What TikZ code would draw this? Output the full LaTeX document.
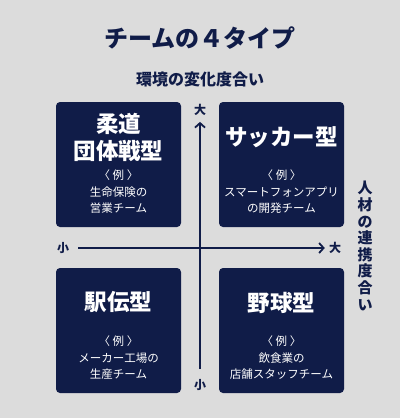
\documentclass[tikz,border=0pt]{standalone}
\usepackage{fontspec}
\setmainfont{Noto Sans CJK JP}
\usetikzlibrary{arrows.meta}
\definecolor{navy}{HTML}{101C48}
\definecolor{bggray}{HTML}{DCDCDC}

\begin{document}
\begin{tikzpicture}[
  x=1pt, y=-1pt,
  ttl/.style={text=navy, font=\fontsize{24}{28}\selectfont\bfseries},
  axlbl/.style={text=navy, align=center, font=\fontsize{16}{19}\selectfont\bfseries},
  tick/.style={text=navy, inner sep=0pt, font=\fontsize{12}{14}\selectfont\bfseries},
  arr/.style={draw=navy, line width=1.8pt, -{Straight Barb[length=4.5pt,width=10pt]}},
  box/.style={fill=navy, rounded corners=4pt, minimum width=125pt,
    minimum height=125pt, inner sep=0pt},
  hdr/.style={text=white, align=center, font=\fontsize{22.5}{27}\selectfont\bfseries},
  ex/.style={text=white, align=center, font=\fontsize{11.5}{16.7}\selectfont}
]

% -------------------------------------------------
% Background and box centres
% -------------------------------------------------
\fill[bggray] (0,0) rectangle (400,418);

\def\xL{118.5}
\def\xR{281.5}
\def\yT{164.5}
\def\yB{330.5}

% -------------------------------------------------
% TITLES
% -------------------------------------------------
\node[ttl] (title) at (200,38) {チームの４タイプ};
\node[axlbl] (ytitle) at (200,79) {環境の変化度合い};
\node[axlbl, font=\fontsize{15}{16.6}\selectfont\bfseries] (xtitle) at (365,246)
  {人\\材\\の\\連\\携\\度\\合\\い};

% -------------------------------------------------
% BOXES
% -------------------------------------------------
\node[box] (b1) at (\xL,\yT) {};
\node[box] (b2) at (\xR,\yT) {};
\node[box] (b3) at (\xL,\yB) {};
\node[box] (b4) at (\xR,\yB) {};

\node[hdr] (h1) at (\xL,\yT-27.5) {柔道\\団体戦型};
\node[hdr] (h2) at (\xR,\yT-27) {サッカー型};
\node[hdr] (h3) at (\xL,\yB-28) {駅伝型};
\node[hdr] (h4) at (\xR,\yB-28) {野球型};

\node[ex] (e1) at (\xL,\yT+27.3) {〈 例 〉\\生命保険の\\営業チーム};
\node[ex] (e2) at (\xR,\yT+27.3) {〈 例 〉\\スマートフォンアプリ\\の開発チーム};
\node[ex] (e3) at (\xL,\yB+27.3) {〈 例 〉\\メーカー工場の\\生産チーム};
\node[ex] (e4) at (\xR,\yB+27.3) {〈 例 〉\\飲食業の\\店舗スタッフチーム};

% -------------------------------------------------
% AXES
% -------------------------------------------------
\node[tick] (ytop) at (200,110) {大};
\node[tick] (ybot) at (200,385) {小};
\node[tick] (xlo) at (63,248) {小};
\node[tick] (xhi) at (335,248) {大};

\draw[arr, shorten <=10pt, shorten >=6pt] (ybot) -- (ytop);
\draw[arr, shorten <=9pt, shorten >=4pt] (xlo) -- (xhi);

\end{tikzpicture}
\end{document}
